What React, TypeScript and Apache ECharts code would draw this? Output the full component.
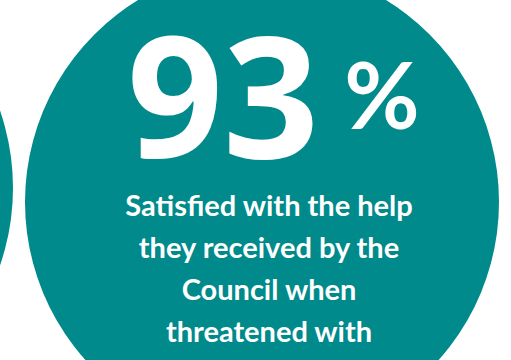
import React, { useEffect, useRef } from "react";
import * as echarts from "echarts";

const statValue = "93";
const statUnit = "%";
const captionLines = [
  "Satisfied with the help",
  "they received by the",
  "Council when",
  "threatened with",
];

const TEAL = "#008A8B";
const FONT = "Lato, 'Open Sans', sans-serif";
const NUM_FONT = "'Open Sans', Lato, sans-serif";

export default function App() {
  const ref = useRef<HTMLDivElement>(null);
  useEffect(() => {
    document.body.style.margin = "0";
    const chart = echarts.init(ref.current!, null, { renderer: "svg" });
    const graphic: any[] = [
      { type: "circle", shape: { cx: -224, cy: 188, r: 237 }, style: { fill: TEAL } },
      { type: "circle", shape: { cx: 262, cy: 202, r: 237 }, style: { fill: TEAL } },
      {
        type: "text",
        x: 223,
        y: 92,
        style: {
          text: statValue,
          fill: "#fff",
          font: `bold 168px ${NUM_FONT}`,
          lineHeight: 128,
          align: "center",
          verticalAlign: "middle",
        },
      },
      {
        type: "text",
        x: 382,
        y: 93,
        style: {
          text: statUnit,
          fill: "#fff",
          font: `bold 92px ${FONT}`,
          lineHeight: 70,
          align: "center",
          verticalAlign: "middle",
        },
      },
      ...captionLines.map((line, i) => ({
        type: "text",
        x: 269,
        y: 204 + i * 42,
        style: {
          text: line,
          fill: "#fff",
          font: `bold 29px ${FONT}`,
          lineHeight: 34,
          align: "center",
          verticalAlign: "middle",
        },
      })),
    ];
    chart.setOption({ animation: false, graphic });
    return () => chart.dispose();
  }, []);
  return <div ref={ref} style={{ width: 511, height: 360 }} />;
}
